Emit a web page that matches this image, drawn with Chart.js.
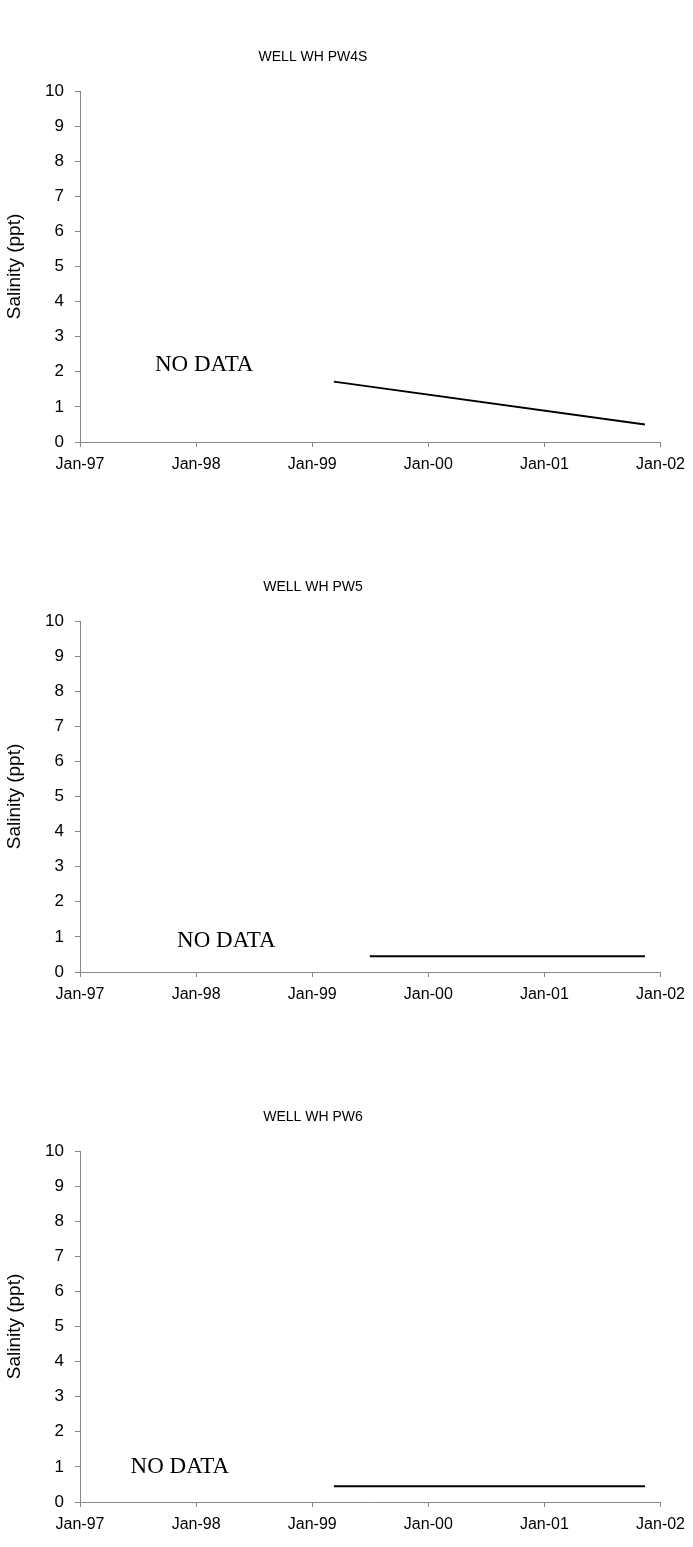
<!DOCTYPE html>
<html>
<head>
<meta charset="utf-8">
<script src="https://cdn.jsdelivr.net/npm/chart.js@4.4.0/dist/chart.umd.min.js"></script>
<style>
html, body { margin: 0; padding: 0; background: #fff; overflow: hidden; }
canvas { position: absolute; left: 0; }
</style>
</head>
<body>
<canvas id="pw4s" width="693" height="530" style="top:0px"></canvas>
<canvas id="pw5" width="693" height="530" style="top:530px"></canvas>
<canvas id="pw6" width="693" height="530" style="top:1060px"></canvas>
<script>
var yearTicks = ['Jan-97', 'Jan-98', 'Jan-99', 'Jan-00', 'Jan-01', 'Jan-02'];

var pw4sDates = ['1999-03-10', '2001-11-13'];
var pw4sSalinity = [1.72, 0.5];

var pw5Dates = ['1999-07-01', '2001-11-13'];
var pw5Salinity = [0.45, 0.45];

var pw6Dates = ['1999-03-10', '2001-11-13'];
var pw6Salinity = [0.45, 0.45];

// date string -> fractional year, so the x axis can run 1997..2002
function toYear(s) {
	var d = new Date(s + 'T00:00:00Z');
	var y = d.getUTCFullYear();
	var start = Date.UTC(y, 0, 1);
	var end = Date.UTC(y + 1, 0, 1);
	return y + (d.getTime() - start) / (end - start);
}

function points(dates, values) {
	var pts = [];
	for (var i = 0; i < dates.length; i++) {
		pts.push({ x: toYear(dates[i]), y: values[i] });
	}
	return pts;
}

var sans = '"Liberation Sans", Arial, sans-serif';

// well name above the plot, slightly left of centre like the old sheet
var wellTitle = {
	id: 'wellTitle',
	afterDraw: function(chart, args, opts) {
		var ctx = chart.ctx;
		ctx.save();
		ctx.font = '14px ' + sans;
		ctx.fillStyle = '#000';
		ctx.textAlign = 'center';
		ctx.textBaseline = 'middle';
		ctx.fillText(opts.text, 313, 57);
		ctx.restore();
	}
};

// writes the "NO DATA" note inside the plot
var noteText = {
	id: 'noteText',
	afterDatasetsDraw: function(chart, args, opts) {
		var ctx = chart.ctx;
		var px = chart.scales.x.getPixelForValue(opts.x);
		var py = chart.scales.y.getPixelForValue(opts.y);
		ctx.save();
		ctx.font = '23px "Liberation Serif", "Times New Roman", serif';
		ctx.fillStyle = '#000';
		ctx.textAlign = 'center';
		ctx.textBaseline = 'middle';
		ctx.fillText(opts.text, px, py);
		ctx.restore();
	}
};

var axisGrey = '#868686';

function disegna(id, title, dates, values, note) {
	var ctx = document.getElementById(id).getContext('2d');
	return new Chart(ctx, {
		type : 'line',
		data : {
			datasets : [ {
				data : points(dates, values),
				borderColor : '#000',
				borderWidth : 2,
				pointRadius : 0,
				tension : 0,
				fill : false
			} ]
		},
		options : {
			responsive : false,
			animation : false,
			layout : { padding : { left : 0, right : 32, top : 91, bottom : 0 } },
			plugins : {
				legend : { display : false },
				tooltip : { enabled : false },
				title : { display : false },
				wellTitle : { text : title },
				noteText : note
			},
			scales : {
				x : {
					type : 'linear',
					min : 1997,
					max : 2002,
					afterFit : function(scale) { scale.height = 88; },
					border : { display : true, color : axisGrey, width : 1 },
					grid : { display : true, drawOnChartArea : false, drawTicks : true, tickLength : 5, color : axisGrey },
					ticks : {
						stepSize : 1,
						maxRotation : 0,
						padding : 8,
						color : '#000',
						font : { family : sans, size : 16 },
						callback : function(v) { return yearTicks[Math.round(v - 1997)]; }
					}
				},
				y : {
					min : 0,
					max : 10,
					afterFit : function(scale) { scale.width = 80; },
					border : { display : true, color : axisGrey, width : 1 },
					grid : { display : true, drawOnChartArea : false, drawTicks : true, tickLength : 5, color : axisGrey },
					ticks : {
						stepSize : 1,
						padding : 11,
						color : '#000',
						font : { family : sans, size : 17 }
					},
					title : {
						display : true,
						text : 'Salinity (ppt)',
						color : '#000',
						font : { family : sans, size : 19 },
						padding : { top : 3, bottom : 0 }
					}
				}
			}
		},
		plugins : [ wellTitle, noteText ]
	});
}

disegna('pw4s', 'WELL WH PW4S', pw4sDates, pw4sSalinity, { text : 'NO DATA', x : 1998.07, y : 2.2 });
disegna('pw5', 'WELL WH PW5', pw5Dates, pw5Salinity, { text : 'NO DATA', x : 1998.26, y : 0.88 });
disegna('pw6', 'WELL WH PW6', pw6Dates, pw6Salinity, { text : 'NO DATA', x : 1997.86, y : 1.0 });
</script>
</body>
</html>
